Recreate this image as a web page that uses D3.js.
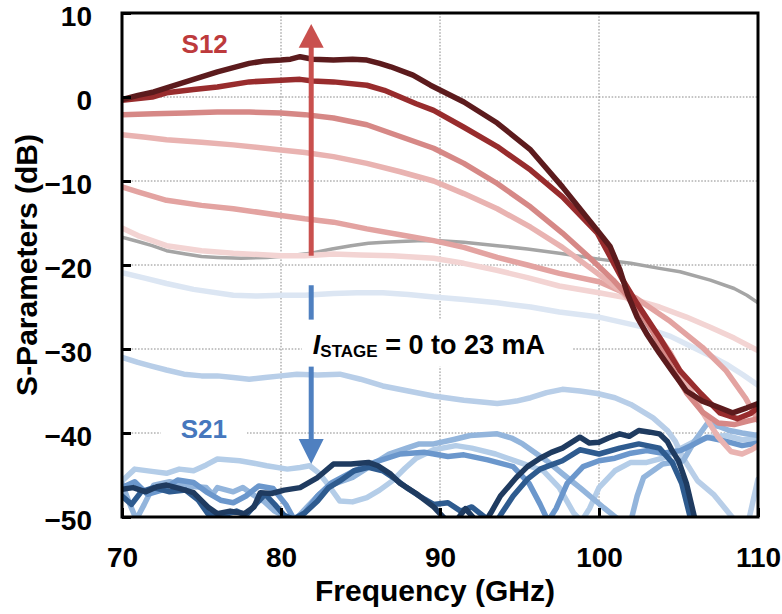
<!DOCTYPE html>
<html><head><meta charset="utf-8">
<script src="https://cdn.jsdelivr.net/npm/d3@7"></script>
<style>
html,body{margin:0;padding:0;background:#fff;}
svg text{font-family:"Liberation Sans",Arial,Helvetica,sans-serif;font-weight:bold;}
</style></head><body>
<svg id="chart" width="782" height="614"></svg>
<script>
// ---- axis ticks ----
const xTicks = [70, 80, 90, 100, 110];
const yTicks = [10, 0, -10, -20, -30, -40, -50];

// ---- S12 traces, [frequency GHz, dB]; stage current rising 0 -> 23 mA ----
const s12_i0 = [[70,-16.7],[71,-17.2],[71.9,-17.7],[72.8,-18.3],[74,-18.7],[75,-19.0],[76,-19.1],[77.5,-19.2],[79.1,-19.1],[80.5,-18.9],[81.9,-18.6],[83.2,-18.1],[84.4,-17.7],[85.5,-17.4],[86.5,-17.3],[87.5,-17.2],[88.6,-17.1],[90,-17.1],[91.5,-17.3],[93.6,-17.7],[95.5,-18.1],[97.5,-18.6],[100,-19.3],[102,-19.8],[103.8,-20.4],[105.1,-20.8],[107,-21.8],[108.5,-22.8],[109.3,-23.6],[110,-24.5]];
const s12_i1 = [[70,-15.6],[71,-16.5],[72.8,-17.7],[75,-18.3],[77,-18.6],[80,-18.9],[81.5,-18.9],[83.3,-18.7],[85,-18.8],[87,-18.9],[89.6,-19.2],[91.5,-19.8],[93.5,-20.6],[95.5,-21.5],[97.5,-22.5],[100,-23.3],[102,-24.0],[103.8,-25.0],[105.5,-26.2],[107,-27.4],[108.5,-28.7],[110,-30.2]];
const s12_i2 = [[70,-10.7],[71,-11.3],[72.8,-12.3],[75,-12.9],[77,-13.3],[80,-14.1],[81.5,-14.5],[83.3,-14.9],[85.4,-15.7],[87.5,-16.4],[89.6,-17.1],[91.5,-17.9],[93.6,-19.1],[95.5,-20.0],[97.5,-21.0],[100,-22.0],[102.3,-23.9],[104.4,-26.6],[106.5,-29.8],[108,-32.6],[109.2,-35.8],[110,-38.5]];
const s12_i3 = [[70,-4.5],[71.5,-4.8],[72.8,-5.1],[75,-5.4],[77,-5.7],[80,-6.3],[81.5,-6.6],[83.3,-7.1],[85.4,-7.9],[87.5,-8.9],[89.6,-10.0],[91.5,-11.5],[93.6,-13.3],[95.7,-15.5],[97.7,-17.9],[99.9,-21.0],[101.5,-23.3],[103,-26.5],[104.5,-30.5],[105.5,-34],[106.5,-37.5],[107.5,-40.5],[108.3,-42.2],[109,-42.5],[109.6,-42],[110,-41.5]];
const s12_i4 = [[70,-2.1],[72,-2.0],[74,-1.9],[76,-1.8],[78,-1.8],[80,-1.9],[81.5,-2.1],[83.3,-2.5],[85.4,-3.3],[87.5,-4.7],[89.6,-6.1],[91.5,-7.9],[93.6,-10.3],[95.7,-13.1],[97.7,-16.2],[99.4,-19.1],[100.9,-21.8],[102.2,-24.5],[103.4,-28],[104.5,-32],[105.5,-35.2],[106.5,-37.5],[107.5,-38.8],[108.5,-39],[109.3,-38.6],[110,-38.3]];
const s12_i5 = [[70,-0.4],[71.9,0.0],[72.8,0.5],[74.5,0.9],[76,1.2],[78,1.8],[80,2.0],[81.2,2.1],[82,1.9],[83.3,1.8],[85.4,1.4],[86.5,0.8],[87.5,0.0],[88.5,-0.8],[89.6,-1.6],[91.5,-3.6],[93.6,-5.9],[95.7,-8.7],[97.7,-11.9],[99.9,-16.2],[101.5,-21.8],[102.4,-24.6],[103.8,-28.6],[105.1,-32.6],[106.4,-35.3],[107.6,-37.6],[108.7,-38.3],[109.5,-37.7],[110,-37.0]];
const s12_i6 = [[70,-0.3],[71,0.2],[72,0.6],[73,1.2],[74,1.8],[75,2.4],[76,3.0],[77,3.5],[78,4.0],[79,4.3],[80,4.4],[80.6,4.5],[81.2,4.8],[82,4.5],[83.3,4.4],[84.5,4.5],[85.4,4.4],[86.2,4.0],[86.9,3.6],[88.3,2.6],[89.4,1.4],[91.5,-0.6],[93.6,-3.1],[95.7,-6.3],[97.7,-10.7],[99.9,-15.9],[100.7,-17.8],[101.3,-20.5],[101.8,-23.5],[102.4,-26.2],[103,-28.2],[103.8,-30.5],[104.7,-32.9],[105.5,-35],[106.5,-36.2],[107.6,-37],[108.4,-37.6],[109.3,-37],[110,-36.5]];

// ---- S21 traces, [frequency GHz, dB]; stage current rising 0 -> 23 mA ----
const s21_i0 = [[70,-20.9],[71.5,-21.6],[72.8,-22.2],[74.5,-22.9],[77,-23.6],[78.5,-23.7],[80,-23.6],[81.5,-23.6],[83.3,-23.4],[84.8,-23.3],[86.4,-23.3],[88,-23.5],[89.6,-23.8],[91.5,-24.1],[93.6,-24.5],[95.7,-25.0],[97.5,-25.6],[100,-26.2],[102.8,-27.4],[104.5,-28.5],[105.9,-29.8],[107,-30.8],[108,-31.8],[109,-33],[110,-34.3]];
const s21_i1 = [[70,-31],[71,-31.6],[71.8,-32],[72.8,-32.5],[73.9,-33],[75,-33.2],[76,-33.2],[77,-33.4],[78,-33.6],[79,-33.4],[80,-33.2],[81,-33.0],[82.3,-33.1],[83.7,-33.0],[85,-33.6],[86.4,-34.4],[88,-35.0],[89.6,-35.6],[91.5,-36.1],[93.6,-36.5],[94.8,-36.2],[95.7,-35.8],[96.7,-35.2],[97.7,-34.8],[98.8,-35.0],[99.9,-35.3],[101,-35.8],[102,-36.6],[103.4,-38.2],[104.3,-39.7],[104.8,-41],[105.3,-43],[106.2,-45.7],[107.2,-47.3],[108.2,-49.6],[108.8,-51],[109.4,-50.5],[110,-45.5]];
const s21_i2 = [[70,-45.7],[70.8,-44.3],[72,-44.6],[72.8,-44.8],[73.6,-44.3],[74.5,-44.5],[75.3,-43.8],[76,-43.1],[77.4,-43.3],[78.3,-43.6],[79.1,-43.9],[80.4,-44.3],[81.2,-44.1],[81.8,-43.9],[82.4,-44.8],[82.9,-46],[83.7,-48.1],[84.5,-48.2],[85.4,-47.7],[86.2,-46.8],[87,-45.7],[87.8,-44.2],[88.5,-43],[89.6,-42],[91,-41.5],[92,-41.8],[93.5,-42.5],[95,-43.5],[96.5,-44.5],[97.5,-46.5],[98.4,-49.5],[98.9,-50.5],[99.4,-49],[100,-46.5],[101,-44.5],[102,-43.5],[103,-43.5],[104,-43],[105,-42],[106,-41],[107,-40.5],[108,-40.3],[109,-40.8],[110,-40.6]];
const s21_i3 = [[70,-46.0],[70.5,-48.5],[70.9,-50.3],[71.4,-48.5],[72,-46.2],[73,-45.8],[74,-46.3],[75.3,-46.5],[75.7,-47.3],[76,-46.5],[77,-47],[77.6,-46.5],[78.2,-47.3],[78.9,-48.1],[79.6,-49.3],[80.4,-50.1],[81,-50.1],[81.6,-48.9],[82.4,-47.3],[83.3,-46.1],[84.5,-45.3],[85.8,-43.7],[86.8,-42.5],[87.9,-41.8],[88.7,-41.3],[89.6,-41.3],[90.8,-40.8],[91.9,-40.3],[93.6,-40.1],[94.5,-40.6],[95.2,-41.3],[96.7,-43.3],[97.8,-45],[98.8,-46.5],[100.3,-48.9],[101.1,-50.1],[101.5,-51],[102,-50.5],[102.4,-47.5],[102.8,-45.3],[104,-43.7],[105.3,-43.3],[106,-41],[106.8,-38.9],[107.5,-39.2],[108.2,-39.7],[109,-40],[110,-40.3]];
const s21_i4 = [[70,-46.5],[70.8,-45.8],[71.6,-47.3],[72.5,-46.8],[73.5,-45.6],[74.5,-45.9],[75.3,-47],[76.2,-48],[77,-48.3],[77.8,-47.5],[78.6,-46.3],[79.5,-46.6],[80.3,-48.5],[80.8,-50.2],[81.5,-49.5],[82.3,-47.5],[83.2,-45.9],[84.5,-44.6],[86,-43.4],[87.5,-42.5],[89,-42.3],[90.5,-42.8],[91.5,-42.6],[93,-43.2],[94.6,-44],[95.6,-46],[96.3,-48.5],[96.8,-50.5],[97.3,-49],[98,-46],[99,-44],[100,-43.3],[101,-43],[102,-42.4],[103,-42.1],[104,-42.4],[105.1,-42.1],[106,-41.3],[106.8,-40.5],[108,-41],[109,-41.5],[110,-41.2]];
const s21_i5 = [[70,-47.5],[70.6,-48.5],[71.2,-47],[72,-46.5],[73,-47],[74,-46.8],[74.8,-48],[75.4,-49.6],[76.3,-49.8],[77.2,-49.3],[77.8,-49.8],[78.4,-48.5],[79,-47.3],[79.6,-48.5],[80.2,-49.8],[80.8,-50.3],[81.5,-49.5],[82.3,-48.1],[83,-46.5],[83.7,-45.7],[84.6,-44.5],[85.5,-44.1],[86.4,-44.5],[87.2,-45.5],[87.9,-46.5],[88.7,-47.5],[89.6,-48.5],[90.5,-48.3],[91.3,-49.3],[92,-48.8],[92.8,-50],[93.4,-51],[93.9,-49.5],[94.6,-47.5],[95.5,-45.5],[96.3,-44.3],[97,-43.8],[97.7,-43.3],[98.8,-42],[100,-42.5],[101.3,-41.8],[102.5,-41.3],[103.8,-41.8],[104.6,-43.5],[105.2,-46],[105.6,-49],[106,-52],[110,-56]];
const s21_i6 = [[70,-46.7],[70.7,-46.5],[71.5,-47],[72.2,-46.4],[72.8,-46.2],[73.6,-46.6],[74.5,-47.1],[75.4,-48.8],[76,-49.6],[76.8,-49.3],[77.7,-49.6],[78.3,-48.8],[78.7,-47.1],[79.4,-47.2],[80.2,-46.8],[81.2,-46.5],[82.3,-45.3],[83.3,-43.7],[84.4,-43.7],[85.5,-43.5],[86.1,-43.9],[86.9,-44.9],[87.5,-46],[88.5,-47.2],[89.6,-48.8],[90.3,-50.2],[91,-50.5],[91.6,-49],[92.2,-50.3],[92.7,-51],[93.2,-49.5],[93.8,-47.5],[94.8,-45.3],[95.5,-44],[96.3,-43],[97,-42.3],[97.7,-41.8],[98.8,-40.5],[99.4,-41.2],[100,-41.1],[100.6,-40.6],[101.3,-40.1],[101.9,-40.4],[102.5,-39.7],[103.2,-39.9],[103.8,-40.1],[104.3,-41],[104.6,-42.1],[105,-43.3],[105.5,-46],[106,-50],[106.5,-53],[110,-56]];

// ---- drawing ----
const svg = d3.select("#chart");
const plot = {left: 122, right: 758, top: 13, bottom: 517};
const x = d3.scaleLinear().domain([70, 110]).range([plot.left, plot.right]);
const y = d3.scaleLinear().domain([-50, 10]).range([plot.bottom, plot.top]);

svg.append("defs").append("clipPath").attr("id", "plotClip")
  .append("rect").attr("x", plot.left).attr("y", plot.top)
  .attr("width", plot.right - plot.left).attr("height", plot.bottom - plot.top);

// dotted grid
const grid = svg.append("g").attr("stroke", "#8a8a8a").attr("stroke-width", 1).attr("stroke-dasharray", "1.6,1.6");
xTicks.slice(1, -1).forEach(v => grid.append("line").attr("x1", x(v)).attr("x2", x(v)).attr("y1", plot.top).attr("y2", plot.bottom));
yTicks.slice(1, -1).forEach(v => grid.append("line").attr("y1", y(v)).attr("y2", y(v)).attr("x1", plot.left).attr("x2", plot.right));

const line = d3.line().x(d => x(d[0])).y(d => y(d[1]));
const traces = svg.append("g").attr("clip-path", "url(#plotClip)").attr("fill", "none")
  .attr("stroke-linejoin", "round").attr("stroke-linecap", "round");

const drawOrder = [
  {d: s12_i0, c: "#a5a5a5", w: 3.5},
  {d: s21_i0, c: "#dce6f3", w: 5.5},
  {d: s21_i1, c: "#b8cee8", w: 5.5},
  {d: s21_i2, c: "#b4cde8", w: 5.5},
  {d: s21_i3, c: "#93b5dc", w: 5.5},
  {d: s21_i4, c: "#6b97cc", w: 5.5},
  {d: s21_i5, c: "#2e5b8f", w: 5.5},
  {d: s21_i6, c: "#1f3b60", w: 5.5},
  {d: s12_i1, c: "#f3d4d3", w: 5.5},
  {d: s12_i2, c: "#e3a3a1", w: 5.5},
  {d: s12_i3, c: "#e9b3b1", w: 5.5},
  {d: s12_i4, c: "#d68886", w: 5.5},
  {d: s12_i5, c: "#982c2d", w: 5.5},
  {d: s12_i6, c: "#5c1b1d", w: 5.5}
];
drawOrder.forEach(s => traces.append("path").attr("d", line(s.d)).attr("stroke", s.c).attr("stroke-width", s.w));

// current-sweep arrows
const arrowX = x(81.9);
const red = "#c9504e", blue = "#4f80c0";
svg.append("line").attr("x1", arrowX).attr("x2", arrowX).attr("y1", y(-18.9)).attr("y2", y(6.2))
  .attr("stroke", red).attr("stroke-width", 5);
svg.append("path").attr("fill", red)
  .attr("d", `M${arrowX},${y(8.7)} L${arrowX + 12.5},${y(5.85)} L${arrowX - 12.5},${y(5.85)} Z`);
svg.append("line").attr("x1", arrowX).attr("x2", arrowX).attr("y1", y(-22.4)).attr("y2", y(-41))
  .attr("stroke", blue).attr("stroke-width", 5);
svg.append("path").attr("fill", blue)
  .attr("d", `M${arrowX},${y(-43.7)} L${arrowX + 12.5},${y(-40.7)} L${arrowX - 12.5},${y(-40.7)} Z`);

// labels with white backing
function boxedText(g, pad) {
  const b = g.node().getBBox();
  g.insert("rect", ":first-child").attr("fill", "#fff")
    .attr("x", b.x - pad[3]).attr("y", b.y - pad[0])
    .attr("width", b.width + pad[1] + pad[3]).attr("height", b.height + pad[0] + pad[2]);
}
const iLab = svg.append("g");
const iText = iLab.append("text").attr("x", x(82.0)).attr("y", y(-30.55)).attr("font-size", 27).attr("fill", "#000");
iText.append("tspan").attr("font-style", "italic").text("I");
iText.append("tspan").attr("font-size", 17).attr("dy", 3).text("STAGE");
iText.append("tspan").attr("dy", -3).text(" = 0 to 23 mA");
boxedText(iLab, [10, 27, 6, 11]);

const s21Lab = svg.append("g");
s21Lab.append("text").attr("x", x(75.15)).attr("y", y(-40.6)).attr("text-anchor", "middle")
  .attr("font-size", 26).attr("fill", "#4677bd").text("S21");
boxedText(s21Lab, [2, 20, 2, 20]);

svg.append("text").attr("x", x(75.2)).attr("y", y(5.25)).attr("text-anchor", "middle")
  .attr("font-size", 26).attr("fill", "#bd3a3c").text("S12");

// frame and inward ticks
svg.append("rect").attr("x", plot.left).attr("y", plot.top)
  .attr("width", plot.right - plot.left).attr("height", plot.bottom - plot.top)
  .attr("fill", "none").attr("stroke", "#000").attr("stroke-width", 3);

const xAxis = d3.axisBottom(x).tickValues(xTicks).tickSize(-9).tickPadding(0).tickFormat(d3.format("d"));
const gx = svg.append("g").attr("transform", `translate(0,${plot.bottom})`).call(xAxis);
const yAxis = d3.axisLeft(y).tickValues(yTicks).tickSize(-9).tickPadding(30).tickFormat(d3.format("d"));
const gy = svg.append("g").attr("transform", `translate(${plot.left},0)`).call(yAxis);
[gx, gy].forEach(g => {
  g.select(".domain").remove();
  g.selectAll(".tick line").attr("stroke", "#000").attr("stroke-width", 3);
  g.selectAll(".tick text").attr("font-size", 28).attr("fill", "#000")
    .style("font-family", '"Liberation Sans", Arial, sans-serif').style("font-weight", "bold");
});
gx.selectAll(".tick text").attr("y", 0).attr("dy", 50);
gy.selectAll(".tick text").attr("dy", "0.45em");

// axis titles
svg.append("text").attr("x", (plot.left + plot.right) / 2 - 5).attr("y", 601).attr("text-anchor", "middle")
  .attr("font-size", 30).attr("fill", "#000").text("Frequency (GHz)");
svg.append("text").attr("transform", `translate(37,${(plot.top + plot.bottom) / 2}) rotate(-90)`)
  .attr("text-anchor", "middle").attr("font-size", 30).attr("fill", "#000").text("S-Parameters (dB)");
</script>
</body></html>
